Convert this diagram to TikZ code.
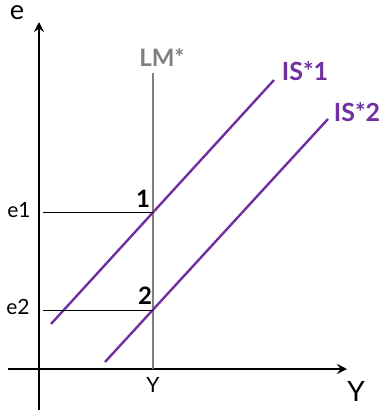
\documentclass[tikz,border=0pt]{standalone}
\usepackage{fontspec}
\setmainfont{Lato}
\usetikzlibrary{arrows.meta}
\definecolor{ispurple}{RGB}{112,48,160}
\definecolor{lmgray}{RGB}{128,128,128}
\begin{document}
\begin{tikzpicture}[x=1pt, y=-1pt,
    axis/.style={line width=2.4pt, -{Stealth[length=10pt, width=10pt, inset=3.5pt]}},
    isline/.style={line width=2.4pt, color=ispurple},
    lmline/.style={line width=2.4pt, color=lmgray},
    guide/.style={line width=0.9pt},
    axlabel/.style={font=\fontsize{21}{21}\selectfont},
    bigpt/.style={font=\fontsize{24}{24}\selectfont\bfseries}]
    \useasboundingbox (0,0) rectangle (384,410);
    % axes
    \coordinate (ybot) at (39,410);
    \coordinate (ytop) at (39,22);
    \coordinate (xleft) at (8,369);
    \coordinate (xright) at (347,369);
    \draw[axis] (ybot) -- (ytop);
    \draw[axis] (xleft) -- (xright);
    \node[font=\fontsize{27}{27}\selectfont] (elab) at (17,13) {e};
    \node[font=\fontsize{28}{28}\selectfont] (Ylab) at (356,391) {Y};
    % LM* curve
    \coordinate (lmtop) at (153,73);
    \coordinate (lmbot) at (153,369);
    \draw[lmline] (lmbot) -- (lmtop);
    \node[font=\fontsize{24}{24}\selectfont\bfseries, text=lmgray] (lmlab) at (162,57) {LM*};
    % IS* curves
    \coordinate (isa1) at (51,324);
    \coordinate (isb1) at (274,80);
    \coordinate (isa2) at (105,362);
    \coordinate (isb2) at (328,119);
    \draw[isline] (isa1) -- (isb1);
    \draw[isline] (isa2) -- (isb2);
    \node[font=\fontsize{25}{25}\selectfont\bfseries, text=ispurple] (islab1) at (305,71) {IS*1};
    \node[font=\fontsize{25}{25}\selectfont\bfseries, text=ispurple] (islab2) at (357,112) {IS*2};
    % equilibria
    \coordinate (e1l) at (43,212);
    \coordinate (p1) at (153,212);
    \coordinate (e2l) at (43,310);
    \coordinate (p2) at (153,310);
    \draw[guide] (e1l) -- (p1);
    \draw[guide] (e2l) -- (p2);
    \node[axlabel] (e1) at (19,210) {e1};
    \node[axlabel] (e2) at (18,307) {e2};
    \node[bigpt] (n1) at (143,199) {1};
    \node[bigpt] (n2) at (145,296) {2};
    \node[axlabel] (Ytick) at (153,385) {Y};
\end{tikzpicture}
\end{document}
